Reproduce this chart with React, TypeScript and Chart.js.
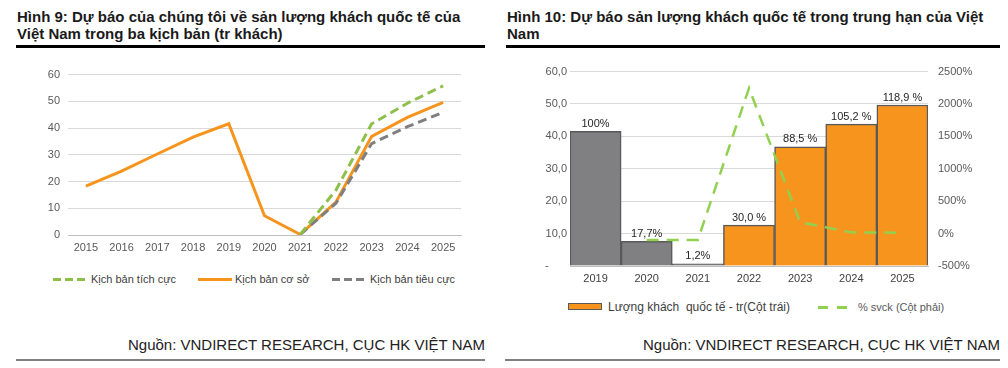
import React, { useEffect, useRef } from "react";
import { Chart, registerables } from "chart.js";
Chart.register(...registerables);

const yearsA = ["2015", "2016", "2017", "2018", "2019", "2020", "2021", "2022", "2023", "2024", "2025"];
const positive = [null, null, null, null, null, null, 0.2, 16.8, 41.6, 49.3, 55.8];
const base = [18.3, 23.9, 30.3, 36.6, 41.6, 7.2, 0.2, 12.3, 36.9, 44.0, 49.6];
const negative = [null, null, null, null, null, null, 0.2, 11.9, 34.2, 40.5, 45.9];

const yearsB = ["2019", "2020", "2021", "2022", "2023", "2024", "2025"];
const arrivals = [41.6, 7.6, 0.7, 12.6, 36.8, 43.8, 49.7];
const barLabels = ["100%", "17,7%", "1,2%", "30,0 %", "88,5 %", "105,2 %", "118,9 %"];
const yoy = [null, -97, -97, 2245, 175, 19, 13];

const FONT = "Arial, 'Liberation Sans', sans-serif";
const GREEN_A = "#8DBF4A";
const GREEN_B = "#92D050";
const ORANGE = "#F7941D";
const GRAY = "#7F7F7F";
const BARGRAY = "#808083";

function LeftChart() {
  const ref = useRef<HTMLCanvasElement>(null);
  useEffect(() => {
    const c = new Chart(ref.current!, {
      type: "line",
      data: {
        labels: yearsA,
        datasets: [
          { label: "Kịch bản tích cực", data: positive, borderColor: GREEN_A, borderWidth: 3, borderDash: [9, 5], pointRadius: 0, tension: 0 },
          { label: "Kịch bản tiêu cực", data: negative, borderColor: GRAY, borderWidth: 3, borderDash: [9, 5], pointRadius: 0, tension: 0 },
          { label: "Kịch bản cơ sở", data: base, borderColor: ORANGE, borderWidth: 3, pointRadius: 0, tension: 0 },
        ],
      },
      options: {
        responsive: false,
        animation: false,
        devicePixelRatio: 1,
        layout: { padding: { top: 9, right: 9, left: 0, bottom: 0 } },
        plugins: { legend: { display: false }, tooltip: { enabled: false } },
        scales: {
          x: {
            offset: true,
            grid: { display: false, drawTicks: false },
            border: { color: "#BFBFBF", width: 1 },
            ticks: { padding: 6, font: { family: FONT, size: 11 }, color: "#595959", maxRotation: 0 },
            afterFit: (s: any) => { s.height = 25; },
          },
          y: {
            min: 0, max: 60,
            ticks: { stepSize: 10, padding: 8, font: { family: FONT, size: 11 }, color: "#595959" },
            grid: { color: "#D9D9D9", drawTicks: false },
            border: { display: false },
            afterFit: (s: any) => { s.width = 68; },
          },
        },
      },
    });
    return () => c.destroy();
  }, []);
  return <canvas ref={ref} width={470} height={200} style={{ position: "absolute", left: 0, top: 60 }} />;
}

const barLabelPlugin = {
  id: "barLabels",
  afterDatasetsDraw(chart: any) {
    const meta = chart.getDatasetMeta(0);
    const ctx = chart.ctx;
    ctx.save();
    ctx.font = `11px ${FONT}`;
    ctx.fillStyle = "#262626";
    ctx.textAlign = "center";
    ctx.textBaseline = "bottom";
    meta.data.forEach((el: any, i: number) => {
      ctx.fillText(barLabels[i], el.x, el.y - 2);
    });
    ctx.restore();
  },
};

function RightChart() {
  const ref = useRef<HTMLCanvasElement>(null);
  useEffect(() => {
    const c = new Chart(ref.current!, {
      type: "bar",
      data: {
        labels: yearsB,
        datasets: [
          {
            type: "bar",
            label: "Lượng khách quốc tế - tr(Cột trái)",
            data: arrivals,
            backgroundColor: arrivals.map((_, i) => (i < 3 ? BARGRAY : ORANGE)),
            borderColor: "#595959",
            borderWidth: 1.5,
            barPercentage: 1,
            categoryPercentage: 1,
            yAxisID: "y",
            order: 1,
          } as any,
          {
            type: "line",
            label: "% svck (Cột phải)",
            data: yoy,
            borderColor: GREEN_B,
            borderWidth: 2.5,
            borderDash: [12, 8],
            pointRadius: 0,
            tension: 0,
            yAxisID: "y1",
            order: 0,
          } as any,
        ],
      },
      options: {
        responsive: false,
        animation: false,
        devicePixelRatio: 1,
        layout: { padding: { top: 15, right: 0, left: 0, bottom: 0 } },
        plugins: { legend: { display: false }, tooltip: { enabled: false } },
        scales: {
          x: {
            grid: { display: false, drawTicks: false },
            border: { color: "#BFBFBF", width: 1 },
            ticks: { padding: 6, font: { family: FONT, size: 11 }, color: "#404040", maxRotation: 0 },
            afterFit: (s: any) => { s.height = 24; },
          },
          y: {
            position: "left",
            min: 0, max: 60,
            ticks: {
              stepSize: 10, padding: 3, font: { family: FONT, size: 11 }, color: "#595959",
              callback: (v: any) => (v === 0 ? "-      " : Number(v).toFixed(1).replace(".", ",")),
            },
            grid: { color: "#D9D9D9", drawTicks: false },
            border: { display: false },
            afterFit: (s: any) => { s.width = 70; },
          },
          y1: {
            position: "right",
            min: -500, max: 2500,
            ticks: { stepSize: 500, padding: 10, font: { family: FONT, size: 11 }, color: "#595959", callback: (v: any) => `${v}%` },
            grid: { display: false, drawTicks: false },
            border: { display: false },
            afterFit: (s: any) => { s.width = 72; },
          },
        },
      },
      plugins: [barLabelPlugin],
    });
    return () => c.destroy();
  }, []);
  return <canvas ref={ref} width={500} height={235} style={{ position: "absolute", left: 500, top: 55 }} />;
}

const abs = (l: number, t: number, extra: any = {}) => ({ position: "absolute" as const, left: l, top: t, ...extra });

function dashLine(color: string, dash: number, gap: number, w: number, h: number) {
  return {
    width: w,
    height: h,
    background: `repeating-linear-gradient(to right, ${color} 0 ${dash}px, transparent ${dash}px ${dash + gap}px)`,
  };
}

export default function App() {
  const titleStyle = { fontFamily: FONT, fontWeight: 700, fontSize: 15, color: "#1A1A1A", lineHeight: "17px", whiteSpace: "nowrap" as const };
  const legStyle = { fontFamily: FONT, fontSize: 11, color: "#404040", lineHeight: "13px", whiteSpace: "nowrap" as const };
  const srcStyle = { fontFamily: FONT, fontSize: 15, color: "#222", lineHeight: "17px", whiteSpace: "nowrap" as const };
  return (
    <div style={{ position: "absolute", left: 0, top: 0, width: 1008, height: 368, background: "#fff", overflow: "hidden" }}>
      <div style={abs(17, 8, titleStyle)}>
        Hình 9: Dự báo của chúng tôi về sản lượng khách quốc tế của<br />Việt Nam trong ba kịch bản (tr khách)
      </div>
      <div style={abs(507, 8, titleStyle)}>
        Hình 10: Dự báo sản lượng khách quốc tế trong trung hạn của Việt<br />Nam
      </div>
      <div style={abs(16, 45, { width: 469, height: 3, background: "#000" })} />
      <div style={abs(506, 45, { width: 494, height: 3, background: "#000" })} />

      <LeftChart />
      <RightChart />

      <div style={abs(53, 278, dashLine(GREEN_A, 8, 4, 34, 3))} />
      <div style={abs(91, 273, legStyle)}>Kịch bản tích cực</div>
      <div style={abs(198, 278, { width: 34, height: 3, background: ORANGE })} />
      <div style={abs(235, 273, legStyle)}>Kịch bản cơ sở</div>
      <div style={abs(332, 278, dashLine(GRAY, 8, 4, 34, 3))} />
      <div style={abs(370, 273, legStyle)}>Kịch bản tiêu cực</div>

      <div style={abs(568, 303, { width: 32, height: 5, background: ORANGE, border: "1.5px solid #595959" })} />
      <div style={abs(608, 300, { ...legStyle, fontSize: 12, lineHeight: "14px" })}>Lượng khách&nbsp; quốc tế - tr(Cột trái)</div>
      <div style={abs(818, 306, dashLine(GREEN_B, 10, 9, 29, 3))} />
      <div style={abs(858, 300, { ...legStyle, color: "#595959", lineHeight: "14px" })}>% svck (Cột phải)</div>

      <div style={abs(0, 336, { ...srcStyle, width: 485, textAlign: "right" })}>Nguồn: VNDIRECT RESEARCH, CỤC HK VIỆT NAM</div>
      <div style={abs(500, 336, { ...srcStyle, width: 500, textAlign: "right" })}>Nguồn: VNDIRECT RESEARCH, CỤC HK VIỆT NAM</div>

      <div style={abs(16, 359, { width: 469, height: 2, background: "#808080" })} />
      <div style={abs(505, 359, { width: 495, height: 2, background: "#808080" })} />
    </div>
  );
}
